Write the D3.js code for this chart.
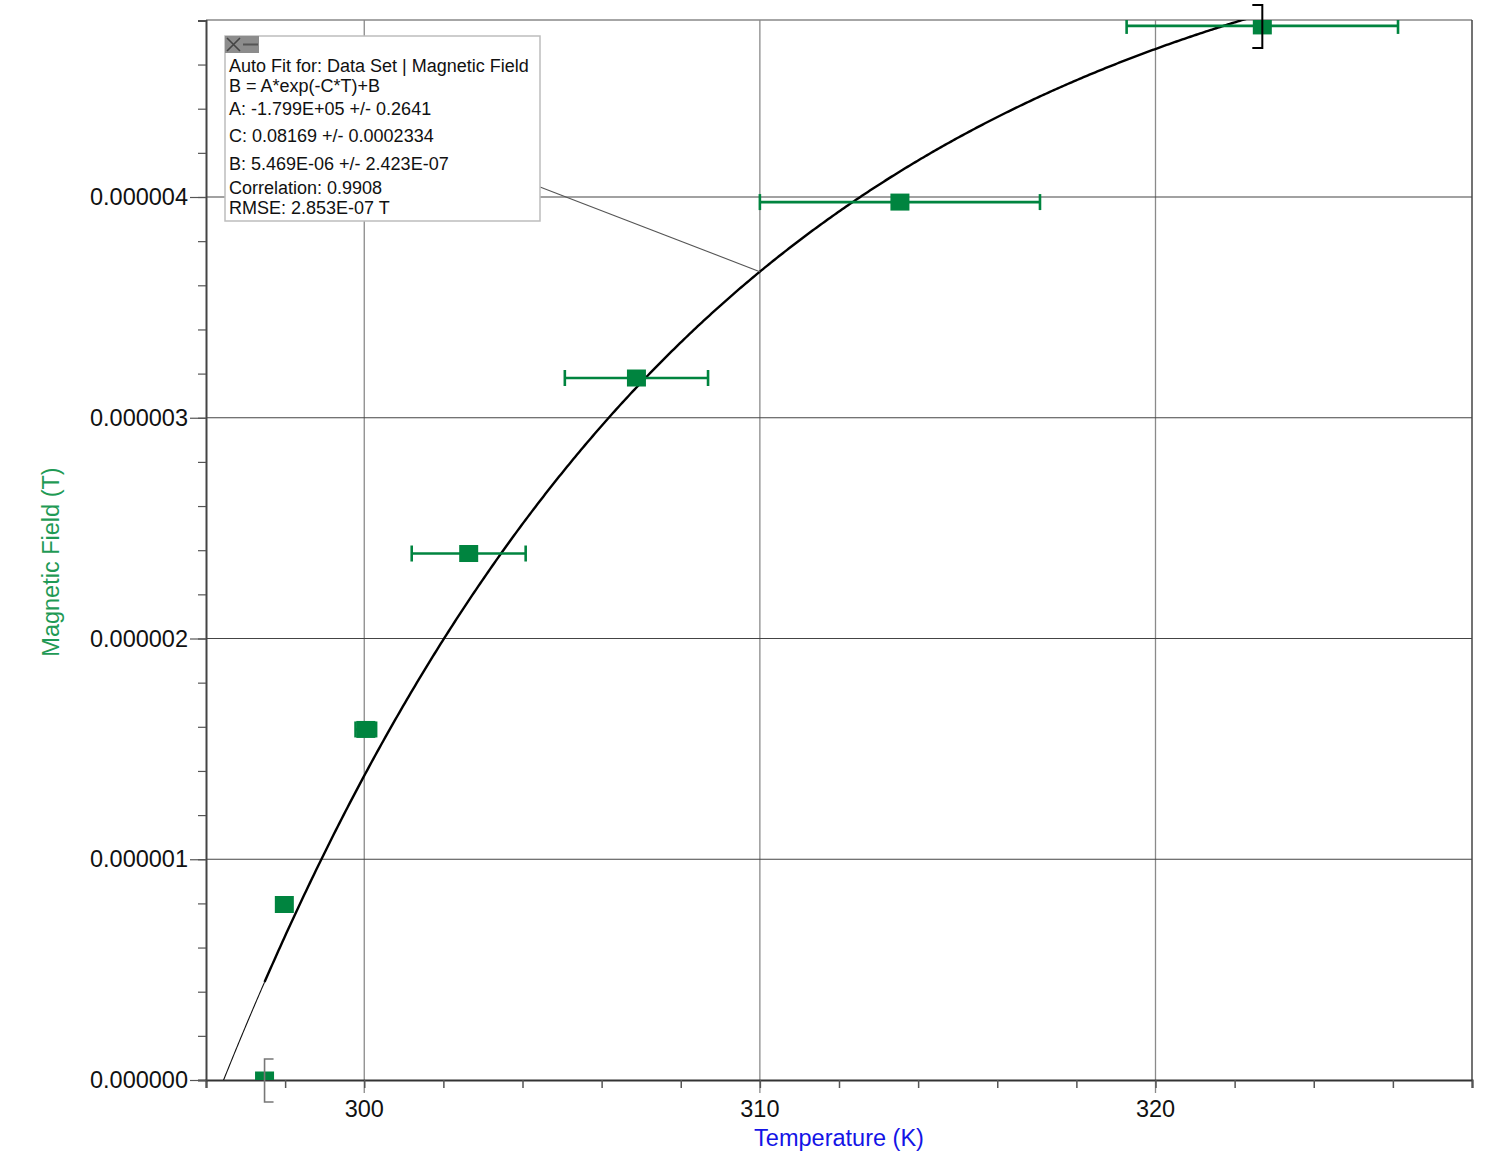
<!DOCTYPE html>
<html>
<head>
<meta charset="utf-8">
<script src="https://cdn.jsdelivr.net/npm/d3@7"></script>
<style>
  html, body { margin: 0; padding: 0; background: #fff; }
  svg { display: block; font-family: "Liberation Sans", Arial, sans-serif; }
</style>
</head>
<body>
<svg id="chart" width="1502" height="1151"></svg>
<script>
// ---- data ----
const temperatures = [297.48, 297.98, 300.04, 302.64, 306.88, 313.54, 322.70];   // K
const fieldValues  = [0.000, 0.795, 1.588, 2.385, 3.180, 3.977, 4.775];          // x 1e-6 T
const tempErrors   = [0, 0, 0.26, 1.44, 1.81, 3.54, 3.43];                         // K
const xTicks = [300, 310, 320];
const yTicks = [0, 1, 2, 3, 4];                                                    // x 1e-6 T
const yTickLabels = ["0.000000", "0.000001", "0.000002", "0.000003", "0.000004"];
const fitA = -1.799e5, fitC = 0.08169, fitB = 5.469e-6;
const fitLines = [
  "Auto Fit for: Data Set | Magnetic Field",
  "B = A*exp(-C*T)+B",
  "A: -1.799E+05 +/- 0.2641",
  "C: 0.08169 +/- 0.0002334",
  "B: 5.469E-06 +/- 2.423E-07",
  "Correlation: 0.9908",
  "RMSE: 2.853E-07 T"
];
const annotateT = 310;

// ---- layout ----
const L = 206, R = 1472, T = 20, B = 1080;
const x = d3.scaleLinear().domain([296, 328]).range([L, R]);
const y = d3.scaleLinear().domain([0, 4.8]).range([B, T + 0.4]);
const fit = t => (fitA * Math.exp(-fitC * t) + fitB) * 1e6;

const svg = d3.select("#chart");
const green = "#00843f";

svg.append("defs").append("clipPath").attr("id", "plotClip")
  .append("rect").attr("x", L).attr("y", T).attr("width", R - L).attr("height", B - T);

// grid
svg.append("g").selectAll("line").data(xTicks).join("line")
  .attr("x1", d => x(d)).attr("x2", d => x(d)).attr("y1", T).attr("y2", B + 13)
  .attr("stroke", "#8a8a8a").attr("stroke-width", 1.3);
svg.append("g").selectAll("line").data(yTicks.slice(1)).join("line")
  .attr("x1", L).attr("x2", R).attr("y1", d => y(d)).attr("y2", d => y(d))
  .attr("stroke", "#444").attr("stroke-width", 1.2);

// top & right border
svg.append("line").attr("x1", L).attr("x2", R).attr("y1", T).attr("y2", T).attr("stroke", "#888").attr("stroke-width", 1.3);
svg.append("line").attr("x1", R).attr("x2", R).attr("y1", T).attr("y2", B).attr("stroke", "#444").attr("stroke-width", 1.5);

// axes
const xAxis = d3.axisBottom(x).tickValues(d3.range(296, 329, 2)).tickSize(8).tickFormat("");
const gx = svg.append("g").attr("transform", `translate(0,${B})`).call(xAxis);
gx.select(".domain").attr("stroke", "#333").attr("stroke-width", 2);
gx.selectAll(".tick line").attr("stroke", "#555").attr("stroke-width", 1.5);

const yMinor = d3.axisLeft(y).tickValues(d3.range(0, 4.81, 0.2)).tickSize(8).tickFormat("");
const gy = svg.append("g").attr("transform", `translate(${L},0)`).call(yMinor);
gy.select(".domain").attr("stroke", "#444").attr("stroke-width", 2);
gy.selectAll(".tick line").attr("stroke", "#555").attr("stroke-width", 1.2);

const yMajor = d3.axisLeft(y).tickValues(yTicks).tickSize(16).tickPadding(2)
  .tickFormat((d, i) => yTickLabels[i]);
const gy2 = svg.append("g").attr("transform", `translate(${L},0)`).call(yMajor);
gy2.select(".domain").remove();
gy2.selectAll(".tick text").attr("font-size", 23.5).attr("fill", "#111")
  .attr("font-family", "Liberation Sans, Arial, sans-serif");
gy2.selectAll(".tick line").attr("stroke", "#555").attr("stroke-width", 1.2);

// x tick labels
svg.append("g").selectAll("text").data(xTicks).join("text")
  .attr("x", d => x(d)).attr("y", 1117).attr("text-anchor", "middle")
  .attr("font-size", 23.5).attr("fill", "#111").text(d => d);

// axis titles
svg.append("text").attr("x", 839).attr("y", 1146).attr("text-anchor", "middle")
  .attr("font-size", 23.5).attr("fill", "#1414e6").text("Temperature (K)");
svg.append("text").attr("transform", "translate(59,562) rotate(-90)").attr("text-anchor", "middle")
  .attr("font-size", 23.5).attr("fill", "#1f9a55").text("Magnetic Field (T)");

// fit curve
const plot = svg.append("g").attr("clip-path", "url(#plotClip)");
const tStart = 296, tSel = temperatures[0], tEnd = 328;
const line = d3.line().x(d => x(d)).y(d => y(fit(d)));
plot.append("path").datum(d3.range(tStart, tSel + 0.001, 0.02))
  .attr("d", line).attr("fill", "none").attr("stroke", "#111").attr("stroke-width", 1.1);
plot.append("path").datum(d3.range(tSel, tEnd, 0.05))
  .attr("d", line).attr("fill", "none").attr("stroke", "#000").attr("stroke-width", 2.4);

// error bars
const eb = plot.append("g").selectAll("g").data(temperatures.map((t, i) => ({t, v: fieldValues[i], e: tempErrors[i]})).filter(d => d.e > 0)).join("g");
eb.append("line").attr("x1", d => x(d.t - d.e)).attr("x2", d => x(d.t + d.e))
  .attr("y1", d => y(d.v)).attr("y2", d => y(d.v)).attr("stroke", green).attr("stroke-width", 2.6);
eb.append("line").attr("x1", d => x(d.t - d.e)).attr("x2", d => x(d.t - d.e))
  .attr("y1", d => y(d.v) - 8).attr("y2", d => y(d.v) + 8).attr("stroke", green).attr("stroke-width", 2.6);
eb.append("line").attr("x1", d => x(d.t + d.e)).attr("x2", d => x(d.t + d.e))
  .attr("y1", d => y(d.v) - 8).attr("y2", d => y(d.v) + 8).attr("stroke", green).attr("stroke-width", 2.6);

// markers
plot.append("g").selectAll("rect").data(temperatures).join("rect")
  .attr("x", d => x(d) - 9.5).attr("y", (d, i) => y(fieldValues[i]) - 8.5)
  .attr("width", 19).attr("height", 17).attr("fill", green);

// selection brackets
const firstX = x(temperatures[0]), firstY = y(fieldValues[0]);
svg.append("path")
  .attr("d", `M${firstX + 9},${firstY - 21} H${firstX} V${firstY + 22} H${firstX + 9}`)
  .attr("fill", "none").attr("stroke", "#777").attr("stroke-width", 1.6);
const lastX = x(temperatures[6]), lastY = y(fieldValues[6]);
svg.append("path")
  .attr("d", `M${lastX - 10},${lastY - 21} H${lastX} V${lastY + 22} H${lastX - 10}`)
  .attr("fill", "none").attr("stroke", "#000").attr("stroke-width", 2);

// annotation box
const bx = 225, by = 36, bw = 315, bh = 185;
svg.append("line").attr("x1", bx + bw).attr("y1", 187).attr("x2", x(annotateT)).attr("y2", y(fit(annotateT)))
  .attr("stroke", "#555").attr("stroke-width", 1.1);
svg.append("rect").attr("x", bx).attr("y", by).attr("width", bw).attr("height", bh)
  .attr("fill", "#fff").attr("stroke", "#bdbdbd").attr("stroke-width", 1.5);
// icons
svg.append("rect").attr("x", bx).attr("y", by).attr("width", 17).attr("height", 17).attr("fill", "#8c8c8c");
svg.append("rect").attr("x", bx + 17).attr("y", by).attr("width", 17).attr("height", 17).attr("fill", "#8c8c8c");
svg.append("path").attr("d", `M${bx + 2},${by + 2} L${bx + 15},${by + 15} M${bx + 15},${by + 2} L${bx + 2},${by + 15}`)
  .attr("stroke", "#444").attr("stroke-width", 1.6);
svg.append("line").attr("x1", bx + 18).attr("x2", bx + 33).attr("y1", by + 8.5).attr("y2", by + 8.5)
  .attr("stroke", "#555").attr("stroke-width", 2);
const baselines = [71.5, 92.3, 115, 142.3, 170, 194, 214.3];
svg.append("g").selectAll("text").data(fitLines).join("text")
  .attr("x", 229).attr("y", (d, i) => baselines[i]).attr("font-size", 18).attr("fill", "#111").text(d => d);
</script>
</body>
</html>
